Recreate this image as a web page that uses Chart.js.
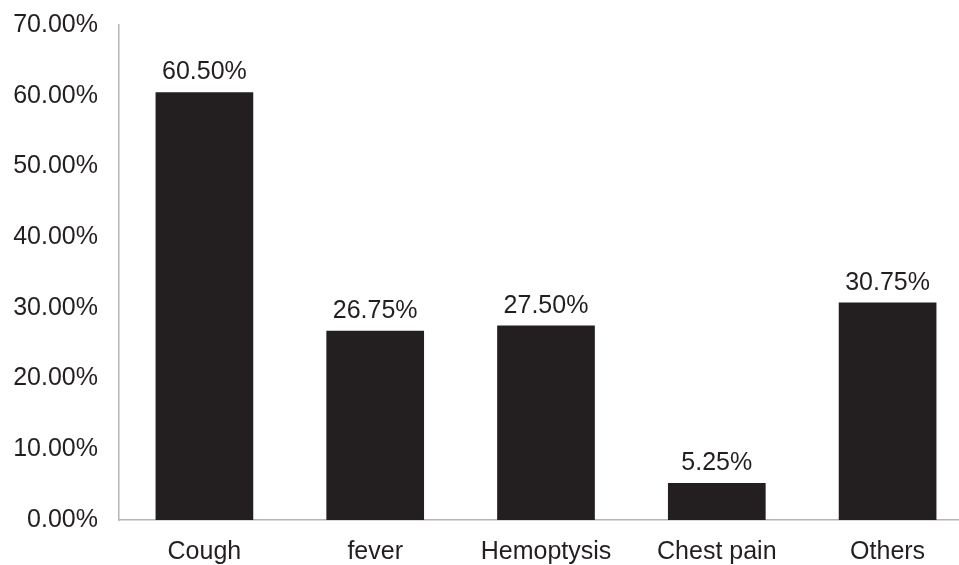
<!DOCTYPE html>
<html>
<head>
<meta charset="utf-8">
<script src="https://cdn.jsdelivr.net/npm/chart.js@4/dist/chart.umd.min.js"></script>
<style>
  html, body { margin: 0; padding: 0; background: #ffffff; overflow: hidden; }
  #wrap { width: 973px; height: 565px; }
</style>
</head>
<body>
<div id="wrap"><canvas id="chart" width="973" height="565"></canvas></div>
<script>
// Symptom shares (%)
const categories = ['Cough', 'fever', 'Hemoptysis', 'Chest pain', 'Others'];
const shares = [60.50, 26.75, 27.50, 5.25, 30.75];
const yTicks = { min: 0, max: 70, step: 10 };

const ink = '#231f20';
const axisGrey = '#b5b5b5';
const font = { family: '"Liberation Sans", Arial, Helvetica, sans-serif', size: 25 };

// Writes each bar's value above it
const valueLabels = {
  id: 'valueLabels',
  afterDatasetsDraw(chart) {
    const ctx = chart.ctx;
    const meta = chart.getDatasetMeta(0);
    ctx.save();
    ctx.font = font.size + 'px ' + font.family;
    ctx.fillStyle = ink;
    ctx.textAlign = 'center';
    ctx.textBaseline = 'alphabetic';
    meta.data.forEach((bar, i) => {
      ctx.fillText(shares[i].toFixed(2) + '%', bar.x, bar.y - 13);
    });
    ctx.restore();
  }
};

new Chart(document.getElementById('chart'), {
  type: 'bar',
  data: {
    labels: categories,
    datasets: [{
      data: shares,
      backgroundColor: ink,
      borderWidth: 0,
      barPercentage: 0.572,
      categoryPercentage: 1.0
    }]
  },
  options: {
    responsive: false,
    devicePixelRatio: 1,
    animation: false,
    layout: { padding: { top: 25, left: 0, right: 0, bottom: 0 } },
    plugins: { legend: { display: false }, tooltip: { enabled: false } },
    scales: {
      x: {
        grid: { display: false, drawTicks: false },
        border: { display: true, color: axisGrey, width: 1.5 },
        ticks: { color: ink, font: font, padding: 17, maxRotation: 0, autoSkip: false },
        afterFit(scale) { scale.height = 45; }
      },
      y: {
        min: yTicks.min,
        max: yTicks.max,
        grid: { display: false, drawTicks: false },
        border: { display: true, color: axisGrey, width: 1.5 },
        ticks: {
          stepSize: yTicks.step,
          color: ink,
          font: font,
          padding: 21,
          callback: v => Number(v).toFixed(2) + '%'
        },
        afterFit(scale) {
          scale.width = 119;
          scale.paddingTop = 0;
          scale.paddingBottom = 0;
        }
      }
    }
  },
  plugins: [valueLabels]
});
</script>
</body>
</html>
